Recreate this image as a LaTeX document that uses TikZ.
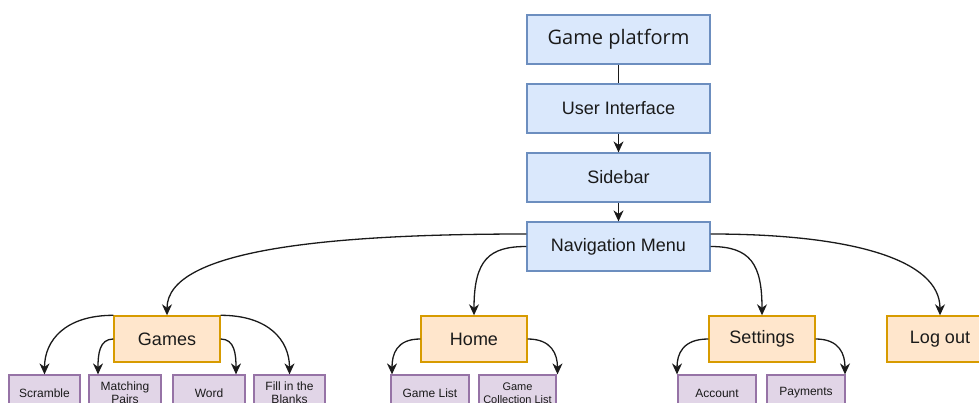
\documentclass[tikz,border=0pt]{standalone}
\usepackage{fontspec}
\setmainfont{Liberation Sans}
\newfontfamily\opensans{Open Sans}
\usetikzlibrary{arrows.meta}
\definecolor{bfill}{HTML}{DAE8FC}
\definecolor{bdraw}{HTML}{6C8EBF}
\definecolor{ofill}{HTML}{FFE6CC}
\definecolor{odraw}{HTML}{D79B00}
\definecolor{pfill}{HTML}{E1D5E7}
\definecolor{pdraw}{HTML}{9673A6}
\definecolor{edge}{HTML}{1A1A1A}
\definecolor{txt}{HTML}{1A1A1A}
\tikzset{
  bluebox/.style={draw=bdraw,fill=bfill,line width=1.2pt,minimum width=183pt,minimum height=49pt,inner sep=0pt,text=txt,font=\fontsize{18}{20}\selectfont},
  orangebox/.style={draw=odraw,fill=ofill,line width=1.4pt,minimum width=106pt,minimum height=46pt,inner sep=0pt,text=txt,font=\fontsize{18}{20}\selectfont},
  purplebox/.style={draw=pdraw,fill=pfill,line width=1.2pt,minimum height=36pt,inner sep=0pt,text=txt,align=center,font=\fontsize{12}{13}\selectfont},
  conn/.style={draw=edge,line width=1.3pt},
  arr/.style={conn,-{Stealth[length=11pt,width=10pt,inset=3.5pt]}}
}
\begin{document}
\begin{tikzpicture}[x=1pt,y=-1pt]
\useasboundingbox (0,0) rectangle (979,403);
\clip (0,0) rectangle (979,403);
% blue column
\node[bluebox,font=\opensans\fontsize{20}{22}\selectfont] (gp) at (618.5,39.5) {Game platform};
\node[bluebox] (ui) at (618.5,108.5) {User Interface};
\node[bluebox] (sb) at (618.5,177.5) {Sidebar};
\node[bluebox] (nav) at (618.5,246.5) {Navigation Menu};
% orange
\node[orangebox] (games) at (167,339) {Games};
\node[orangebox] (home) at (474,339) {Home};
\node[orangebox] (set) at (762,339) {Settings};
\node[orangebox] (logout) at (940,339) {Log out};
% purple
\node[purplebox,minimum width=71pt] (scr) at (44.5,393) {Scramble};
\node[purplebox,minimum width=72pt] (mp) at (125,393) {Matching\\Pairs};
\node[purplebox,minimum width=72pt] (word) at (209,393) {Word};
\node[purplebox,minimum width=71pt] (fill) at (289.5,393) {Fill in the\\Blanks};
\node[purplebox,minimum width=78pt] (gl) at (430,393) {Game List};
\node[purplebox,minimum width=77pt,font=\fontsize{11}{12.5}\selectfont] (gcl) at (517.5,393) {Game\\Collection List};
\node[purplebox,minimum width=78pt] (acc) at (717,393) {Account};
\node[purplebox,minimum width=78pt] (pay) at (806,393) {Payments};
% vertical connectors
\draw[conn] (gp) -- (ui);
\draw[arr] (ui) -- (sb);
\draw[arr] (sb) -- (nav);
% nav curves
\draw[arr] ([yshift=12.5pt]nav.west) .. controls +(-197,0) and +(0,-66) .. (games.north);
\draw[arr] (nav.west) .. controls +(-37,0) and +(0,-56) .. (home.north);
\draw[arr] ([yshift=12.5pt]nav.east) .. controls +(140,0) and +(0,-56) .. (logout.north);
\draw[arr] (nav.east) .. controls +(40,0) and +(0,-51) .. (set.north);
% games children
\draw[arr] (games.north west) .. controls +(-48,0) and +(0,-34) .. (scr.north);
\draw[arr] (games.west) .. controls +(-14,0) and +(0,-20) .. ([xshift=-27pt]mp.north);
\draw[arr] (games.east) .. controls +(14,0) and +(0,-20) .. ([xshift=27pt]word.north);
\draw[arr] (games.north east) .. controls +(48,0) and +(0,-34) .. (fill.north);
% home children
\draw[arr] (home.west) .. controls +(-24,0) and +(0,-20) .. ([xshift=-38pt]gl.north);
\draw[arr] (home.east) .. controls +(24,0) and +(0,-20) .. ([xshift=40pt]gcl.north);
% settings children
\draw[arr] (set.west) .. controls +(-26,0) and +(0,-20) .. ([xshift=-40pt]acc.north);
\draw[arr] (set.east) .. controls +(24,0) and +(0,-20) .. ([xshift=39pt]pay.north);
\end{tikzpicture}
\end{document}
